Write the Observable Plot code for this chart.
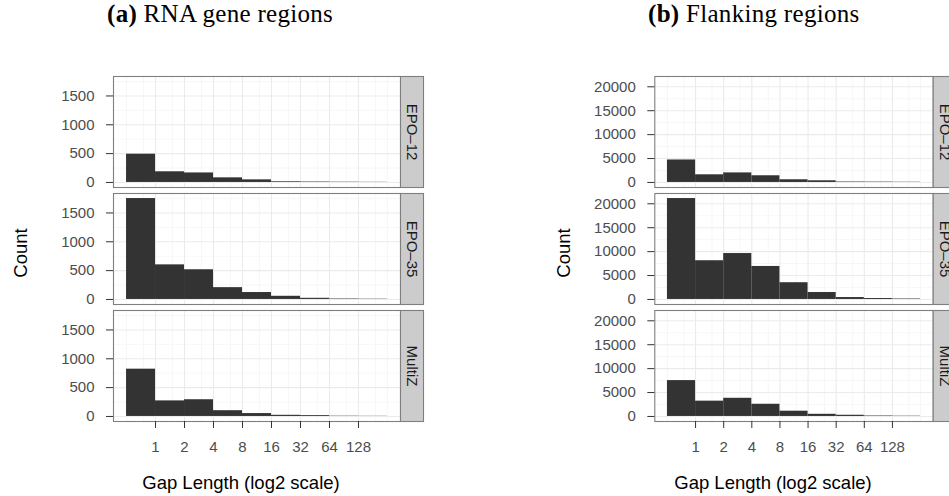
<!DOCTYPE html>
<html><head><meta charset="utf-8">
<script src="https://cdn.jsdelivr.net/npm/d3@7"></script>
<script src="https://cdn.jsdelivr.net/npm/@observablehq/plot@0.6"></script>
<style>
body{margin:0;background:#fff;}
#wrap{position:relative;width:949px;height:496px;overflow:hidden;background:#fff;}
.panel{position:absolute;top:0;}
.title{position:absolute;font-family:"Liberation Serif","Times New Roman",serif;font-size:25px;color:#000;white-space:nowrap;line-height:1;letter-spacing:0.3px;}
.lab{position:absolute;font-family:"Liberation Sans",Arial,sans-serif;font-size:18.5px;color:#000;white-space:nowrap;line-height:1;transform:translate(-50%,-50%);}
.rot{transform:translate(-50%,-50%) rotate(-90deg);}
</style></head><body>
<div id="wrap">
  <div class="title" style="left:107px;top:1px;"><b>(a)</b> RNA gene regions</div>
  <div class="title" style="left:648px;top:1px;"><b>(b)</b> Flanking regions</div>
  <div class="lab rot" style="left:21px;top:253px;">Count</div>
  <div class="lab rot" style="left:564px;top:253px;">Count</div>
  <div class="lab" style="left:241px;top:483px;">Gap Length (log2 scale)</div>
  <div class="lab" style="left:773px;top:483px;">Gap Length (log2 scale)</div>
  <div id="left" class="panel" style="left:0px;"></div>
  <div id="right" class="panel" style="left:474px;"></div>
</div>
<script>
// facet rows
const facets = ["EPO\u201312", "EPO\u201335", "MultiZ"];
// histogram bins (gap length, log2 bins)
const binLo = [0.5, 1, 2, 4, 8, 16, 32, 64, 128];
const binHi = [1, 2, 4, 8, 16, 32, 64, 128, 256];
const xTicks = [1, 2, 4, 8, 16, 32, 64, 128];
const xMinor = [0.5, 0.75, 1.5, 3, 6, 12, 24, 48, 96, 192, 256];

// (a) RNA gene regions counts
const rnaEPO12 = [490, 185, 165, 80, 45, 12, 8, 5, 3];
const rnaEPO35 = [1750, 600, 515, 205, 120, 55, 20, 8, 5];
const rnaMultiZ = [820, 270, 290, 100, 50, 20, 15, 5, 3];
const rnaYTicks = [0, 500, 1000, 1500];
const rnaYMinor = [250, 750, 1250, 1750];

// (b) Flanking regions counts
const flkEPO12 = [4700, 1600, 2000, 1400, 560, 350, 100, 80, 50];
const flkEPO35 = [21100, 8100, 9600, 6900, 3500, 1450, 400, 200, 100];
const flkMultiZ = [7500, 3200, 3800, 2550, 1100, 450, 250, 100, 60];
const flkYTicks = [0, 5000, 10000, 15000, 20000];
const flkYMinor = [2500, 7500, 12500, 17500];

function panel(counts, yTicks, yMinor, yMax, width, marginLeft, marginRight) {
  const data = facets.flatMap((f, i) => counts[i].map((c, j) => ({facet: f, lo: binLo[j], hi: binHi[j], count: c})));
  const fw = width - marginLeft - marginRight;
  const pad = 0.05 * yMax;
  return Plot.plot({
    width, height: 496,
    marginLeft, marginRight, marginTop: 75.3, marginBottom: 75.3,
    style: {fontFamily: "'Liberation Sans', Arial, sans-serif", fontSize: "15px", background: "transparent", overflow: "visible"},
    x: {type: "log", base: 2, domain: [2 ** -1.45, 2 ** 8.45]},
    y: {domain: [-pad, yMax + pad]},
    fy: {domain: facets, paddingInner: 0.053, paddingOuter: 0},
    marks: [
      Plot.ruleY(yMinor, {stroke: "#F3F3F3", strokeWidth: 0.7}),
      Plot.ruleX(xMinor, {stroke: "#F3F3F3", strokeWidth: 0.7}),
      Plot.ruleY(yTicks, {stroke: "#EBEBEB", strokeWidth: 1.1}),
      Plot.ruleX(xTicks, {stroke: "#EBEBEB", strokeWidth: 1.1}),
      Plot.rectY(data, {x1: "lo", x2: "hi", y1: 0, y2: "count", fy: "facet", fill: "#333333"}),
      Plot.frame({stroke: "#7F7F7F", strokeWidth: 1.1}),
      Plot.frame({fill: "#CCCCCC", stroke: "#7F7F7F", strokeWidth: 1.1, insetLeft: fw, insetRight: -23}),
      Plot.text(facets, {fy: d => d, y: () => yMax / 2, text: d => d, frameAnchor: "right", dx: 11.5, rotate: 90, textAnchor: "middle", lineAnchor: "middle", fill: "#1A1A1A", fontSize: 15}),
      Plot.axisY({ticks: yTicks, tickFormat: d => String(d), tickSize: 7, tickPadding: 12, stroke: "#333333", fill: "#4D4D4D", label: null, fontSize: 15}),
      Plot.axisX({ticks: xTicks, tickFormat: d => String(d), tickSize: 7, tickPadding: 13, stroke: "#333333", fill: "#4D4D4D", label: null, fontSize: 15}),
      Plot.axisFy({label: null, ticks: []})
    ]
  });
}

document.getElementById("left").append(
  panel([rnaEPO12, rnaEPO35, rnaMultiZ], rnaYTicks, rnaYMinor, 1750, 475, 113, 75)
);
document.getElementById("right").append(
  panel([flkEPO12, flkEPO35, flkMultiZ], flkYTicks, flkYMinor, 21100, 475, 180.3, 16.3)
);
</script>
</body></html>
